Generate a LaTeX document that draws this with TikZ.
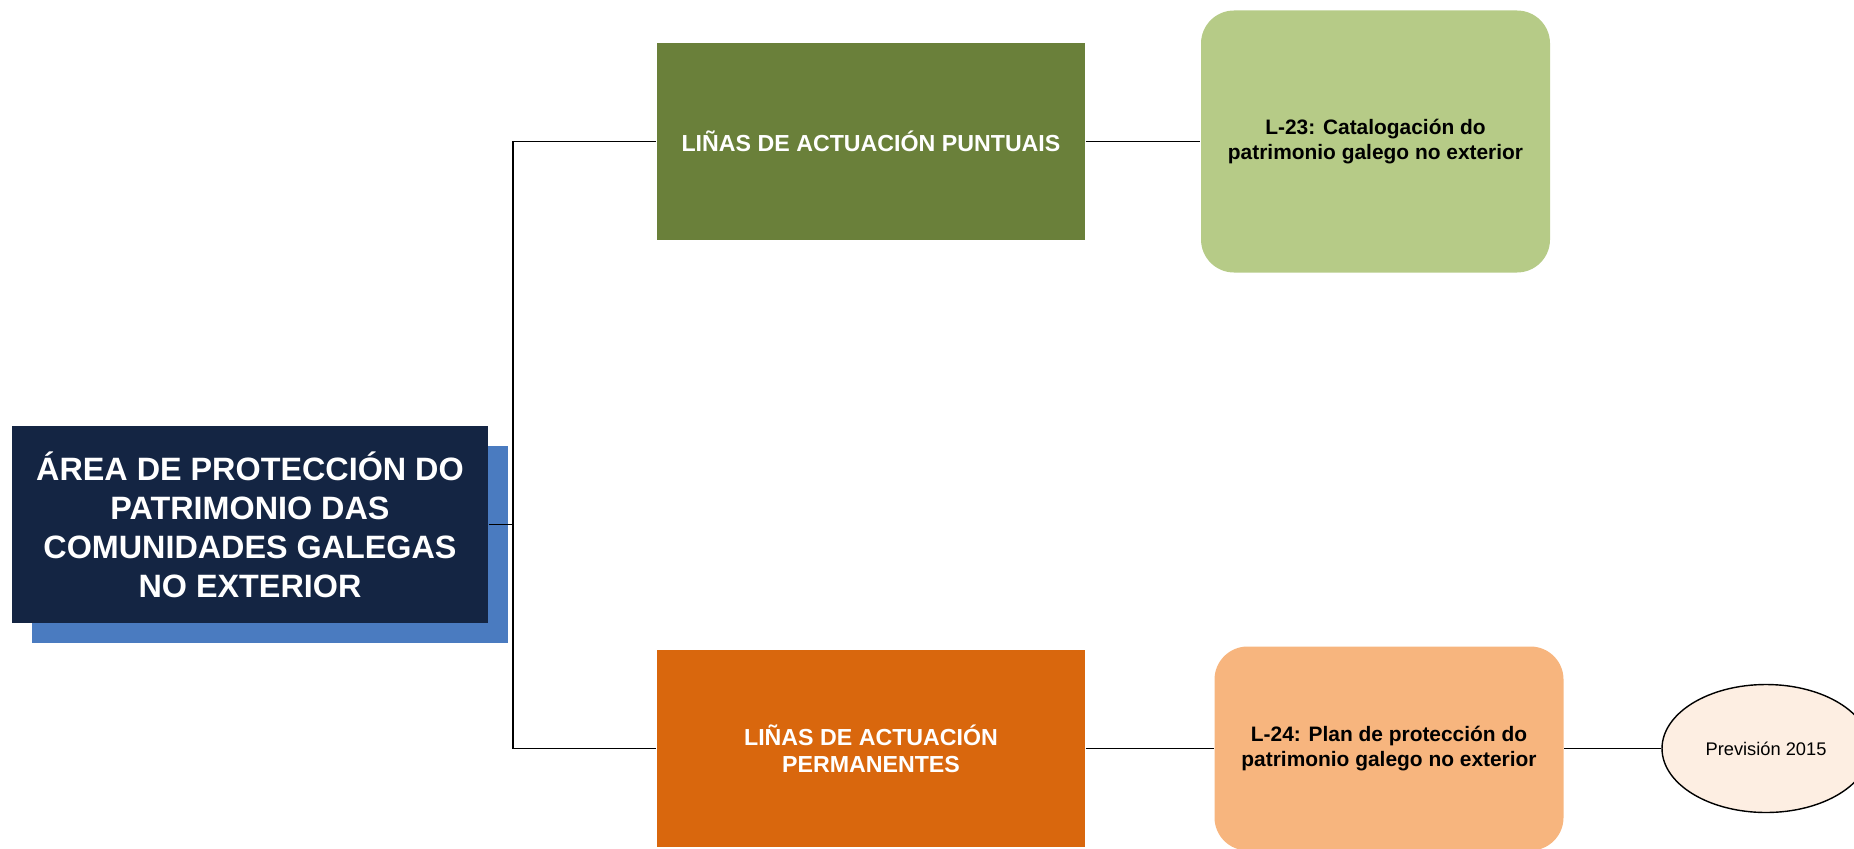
\documentclass[tikz,border=0pt]{standalone}
\usepackage{fontspec}
\setmainfont{Liberation Sans}
\usetikzlibrary{shadows,shapes.geometric}

\definecolor{navy}{RGB}{20,37,67}
\definecolor{shadowblue}{RGB}{74,123,192}
\definecolor{olive}{RGB}{106,128,58}
\definecolor{lightolive}{RGB}{182,203,135}
\definecolor{rust}{RGB}{217,103,13}
\definecolor{peach}{RGB}{247,181,126}
\definecolor{cream}{RGB}{253,238,226}

\begin{document}
\begin{tikzpicture}[
    box/.style={rectangle, minimum width=4.28cm, minimum height=1.97cm, inner sep=0pt,
      align=center, text=white, font=\bfseries\fontsize{6.6}{7.6}\selectfont},
    linea/.style={rectangle, rounded corners=0.33cm, minimum width=3.49cm, inner sep=0pt,
      align=center, font=\bfseries\fontsize{5.95}{7.1}\selectfont},
    conn/.style={draw=black, line width=0.4pt}]
    \useasboundingbox (0,0) rectangle (18.54,8.48);
    \node[fill=navy, minimum width=4.76cm, minimum height=1.97cm, inner sep=0pt,
      align=center, text=white, font=\bfseries\fontsize{9.2}{11.1}\selectfont,
      general shadow={shadow xshift=0.2cm, shadow yshift=-0.2cm, fill=shadowblue}]
      (area) at (2.50,3.235) {ÁREA DE PROTECCIÓN DO\\PATRIMONIO DAS\\COMUNIDADES GALEGAS\\NO EXTERIOR};
    \node[box, fill=olive] (puntuais) at (8.71,7.065) {LIÑAS DE ACTUACIÓN PUNTUAIS};
    \node[box, fill=rust] (permanentes) at (8.71,0.995) {LIÑAS DE ACTUACIÓN\\PERMANENTES};
    \node[linea, fill=lightolive, minimum height=2.62cm] (l23) at (13.755,7.065)
      {L-23: Catalogación do\\patrimonio galego no exterior};
    \node[linea, fill=peach, minimum height=2.04cm] (l24) at (13.89,0.995)
      {L-24: Plan de protección do\\patrimonio galego no exterior};
    \node[ellipse, draw=black, line width=0.4pt, fill=cream, minimum width=2.08cm,
      minimum height=1.28cm, inner sep=0pt, font=\fontsize{5.2}{6.2}\selectfont]
      (prev) at (17.66,0.995) {Previsión 2015};

    % conectores
    \coordinate (fork) at (5.13,3.235);
    \draw[conn] (area.east) -- (fork);
    \draw[conn] (fork) |- (puntuais.west);
    \draw[conn] (fork) |- (permanentes.west);
    \draw[conn] (puntuais.east) -- (l23.west);
    \draw[conn] (permanentes.east) -- (l24.west);
    \draw[conn] (l24.east) -- (prev.west);
  \end{tikzpicture}
\end{document}
